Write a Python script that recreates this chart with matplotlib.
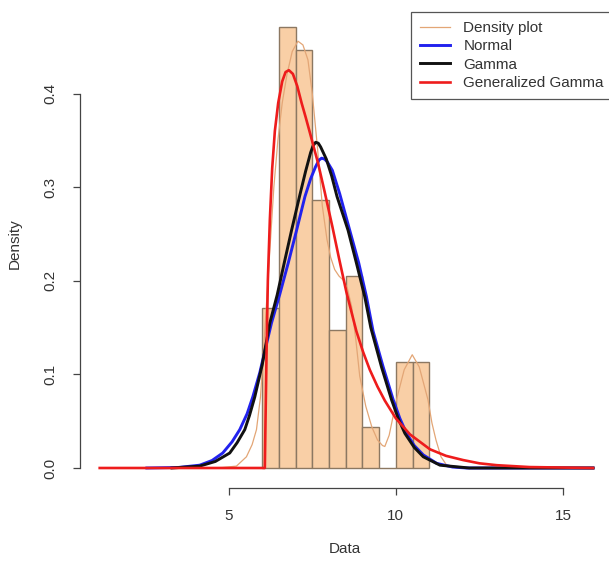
import matplotlib
matplotlib.use("Agg")
import matplotlib.pyplot as plt

plt.rcParams['font.family'] = ['Liberation Sans', 'DejaVu Sans']

# histogram (density scale), bins of width 0.5
bin_left = [6.0, 6.5, 7.0, 7.5, 8.0, 8.5, 9.0, 9.5, 10.0, 10.5]
bin_density = [0.171, 0.471, 0.447, 0.286, 0.147, 0.205, 0.0435, 0.0, 0.1136, 0.1136]
bin_width = 0.5

# kernel density line
dens_x = [4.13, 4.8, 5.23, 5.53, 5.7, 5.83, 5.95, 6.08, 6.23, 6.35, 6.47, 6.6, 6.74, 6.9,
          7.07, 7.22, 7.37, 7.5, 7.66, 7.8, 7.94, 8.05, 8.17, 8.3, 8.42, 8.55, 8.68, 8.8,
          8.92, 9.1, 9.28, 9.45, 9.6, 9.67, 9.8, 10.02, 10.25, 10.49, 10.7, 10.96, 11.08,
          11.2, 11.35, 11.52, 11.8, 12.2]
dens_y = [0.0, 0.0005, 0.002, 0.012, 0.025, 0.041, 0.076, 0.147, 0.233, 0.30, 0.35, 0.39,
          0.42, 0.445, 0.456, 0.452, 0.436, 0.40, 0.34, 0.28, 0.244, 0.225, 0.212, 0.205,
          0.201, 0.192, 0.172, 0.138, 0.098, 0.066, 0.044, 0.030, 0.024, 0.023, 0.035,
          0.073, 0.105, 0.121, 0.108, 0.073, 0.048, 0.03, 0.012, 0.003, 0.0005, 0.0]

# fitted normal
norm_x = [2.55, 3.5, 4.13, 4.5, 4.82, 5.1, 5.33, 5.55, 5.72, 5.93, 6.1, 6.28, 6.53, 6.78,
          7.03, 7.28, 7.45, 7.6, 7.7, 7.78, 7.87, 7.95, 8.1, 8.32, 8.62, 8.89, 9.12, 9.32,
          9.62, 9.92, 10.12, 10.32, 10.55, 10.82, 11.22, 11.7, 12.12, 15.9]
norm_y = [0.0, 0.0006, 0.003, 0.008, 0.016, 0.028, 0.041, 0.058, 0.076, 0.102, 0.128,
          0.155, 0.186, 0.219, 0.254, 0.290, 0.309, 0.322, 0.329, 0.331, 0.330, 0.327,
          0.318, 0.293, 0.254, 0.219, 0.183, 0.146, 0.108, 0.073, 0.053, 0.037, 0.024,
          0.014, 0.005, 0.001, 0.0, 0.0]

# fitted gamma
gam_x = [3.3, 4.13, 4.6, 5.03, 5.25, 5.48, 5.62, 5.78, 6.0, 6.23, 6.45, 6.66, 6.88, 7.13,
         7.3, 7.45, 7.52, 7.6, 7.68, 7.75, 7.92, 8.08, 8.24, 8.57, 8.82, 9.07, 9.25, 9.57,
         9.87, 10.07, 10.27, 10.55, 10.82, 11.32, 12.2, 15.9]
gam_y = [0.0, 0.002, 0.007, 0.016, 0.027, 0.041, 0.056, 0.076, 0.110, 0.155, 0.185, 0.219,
         0.254, 0.292, 0.317, 0.337, 0.344, 0.348, 0.347, 0.343, 0.330, 0.312, 0.290, 0.254,
         0.219, 0.183, 0.150, 0.108, 0.073, 0.053, 0.037, 0.022, 0.012, 0.003, 0.0, 0.0]

# fitted generalized gamma
ggam_x = [1.14, 6.08, 6.10, 6.13, 6.17, 6.23, 6.30, 6.38, 6.48, 6.60, 6.70, 6.80, 6.92,
          7.05, 7.18, 7.30, 7.43, 7.55, 7.67, 7.87, 8.10, 8.30, 8.52, 8.82, 9.02, 9.22,
          9.45, 9.67, 10.0, 10.42, 11.02, 11.5, 12.01, 12.5, 13.02, 14.0, 15.9]
ggam_y = [0.0, 0.0, 0.05, 0.12, 0.20, 0.265, 0.32, 0.36, 0.39, 0.413, 0.423, 0.425, 0.421,
          0.408, 0.390, 0.375, 0.358, 0.342, 0.326, 0.295, 0.258, 0.224, 0.188, 0.146,
          0.124, 0.105, 0.087, 0.072, 0.053, 0.036, 0.020, 0.013, 0.0085, 0.005, 0.003,
          0.001, 0.0]

y_ticks = [0.0, 0.1, 0.2, 0.3, 0.4]
x_ticks = [5, 10, 15]

fig = plt.figure(figsize=(6.09, 5.62), dpi=100)
ax = fig.add_axes([80 / 609, 74 / 562, 1 - 80 / 609, 1 - 74 / 562])

ax.bar(bin_left, bin_density, width=bin_width, align='edge',
       color='#f9cfa6', edgecolor='#8c7862', linewidth=1.0, zorder=1)
ax.plot(dens_x, dens_y, color='#e3a676', lw=0.9, label='Density plot', zorder=2)
ax.plot(norm_x, norm_y, color='#2222ee', lw=2.1, label='Normal', zorder=3)
ax.plot(gam_x, gam_y, color='#111111', lw=2.1, label='Gamma', zorder=4)
ax.plot(ggam_x, ggam_y, color='#ee1c1c', lw=1.9, label='Generalized Gamma', zorder=5)

ax.set_xlim(0.55, 5 + (609 - 229) / 33.4)
ax.set_ylim(-20 / 936, 468 / 936)

for s in ['top', 'right']:
    ax.spines[s].set_visible(False)
ax.spines['left'].set_bounds(0, 0.4)
ax.spines['bottom'].set_bounds(5, 15)
for s in ['left', 'bottom']:
    ax.spines[s].set_color('#444444')
    ax.spines[s].set_linewidth(0.9)

ax.set_xticks(x_ticks)
ax.set_xticklabels([str(t) for t in x_ticks])
ax.set_yticks(y_ticks)
ax.set_yticklabels([f'{t:.1f}' for t in y_ticks], rotation=90, va='center')
ax.tick_params(axis='both', length=5, width=0.9, color='#444444',
               labelsize=11, labelcolor='#333333')
ax.tick_params(axis='y', pad=11)
ax.tick_params(axis='x', pad=10)

ax.set_xlabel('Data', fontsize=11, color='#333333', labelpad=14)
ax.set_ylabel('Density', fontsize=11, color='#333333', labelpad=16)

leg = ax.legend(loc='upper left', bbox_to_anchor=(411 / 609, 1 - 11.7 / 562),
                bbox_transform=fig.transFigure, fontsize=11, frameon=True,
                fancybox=False, edgecolor='#555555', framealpha=1,
                handlelength=1.96, handletextpad=0.87, borderpad=0.6,
                labelspacing=0.29, borderaxespad=0)
leg.get_frame().set_linewidth(0.9)
for t in leg.get_texts():
    t.set_color('#333333')

fig.savefig('out.png', dpi=100)
